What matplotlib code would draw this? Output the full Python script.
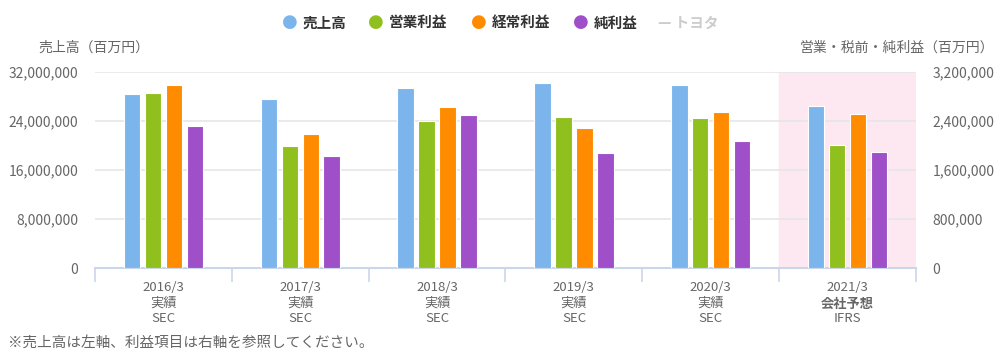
import numpy as np
import matplotlib
matplotlib.use("Agg")
import matplotlib.pyplot as plt
from matplotlib.transforms import blended_transform_factory

plt.rcParams['font.family'] = ['Noto Sans CJK JP', 'DejaVu Sans']

# data (百万円)
years = ["2016/3", "2017/3", "2018/3", "2019/3", "2020/3", "2021/3"]
kinds = ["実績", "実績", "実績", "実績", "実績", "会社予想"]
standards = ["SEC", "SEC", "SEC", "SEC", "SEC", "IFRS"]
sales = [28403118, 27597193, 29379510, 30225681, 29929992, 26500000]
op_income = [2853971, 1994372, 2399862, 2467545, 2442869, 2000000]
pretax = [2983381, 2193825, 2620429, 2285465, 2554607, 2520000]
net_income = [2312694, 1831109, 2493983, 1882873, 2076183, 1900000]

c_sales = "#7cb5ec"
c_op = "#90c01e"
c_pre = "#ff8c00"
c_net = "#9f50c8"
grid_c = "#e6e6e6"
axis_c = "#ccd6eb"
txt_c = "#666666"

fig = plt.figure(figsize=(10, 3.55), dpi=100)
ax = fig.add_axes([0.095, (355 - 268) / 355, 0.821, 196 / 355])
ax2 = ax.twinx()

x = np.arange(len(years))
w = 0.12
step = 0.153

# forecast band
ax.axvspan(4.5, 5.5, color="#fde8f1", zorder=0)

ax.bar(x - 1.5 * step, sales, w, color=c_sales, edgecolor="white", linewidth=0.8, zorder=3)
ax2.bar(x - 0.5 * step, op_income, w, color=c_op, edgecolor="white", linewidth=0.8, zorder=3)
ax2.bar(x + 0.5 * step, pretax, w, color=c_pre, edgecolor="white", linewidth=0.8, zorder=3)
ax2.bar(x + 1.5 * step, net_income, w, color=c_net, edgecolor="white", linewidth=0.8, zorder=3)

ax.set_xlim(-0.5, 5.5)
ax.set_ylim(0, 32000000)
ax2.set_ylim(0, 3200000)
left_ticks = list(range(0, 32000001, 8000000))
right_ticks = list(range(0, 3200001, 800000))
ax.set_yticks(left_ticks)
ax2.set_yticks(right_ticks)
ax.set_yticklabels([f"{v:,}" for v in left_ticks])
ax2.set_yticklabels([f"{v:,}" for v in right_ticks])
ax.yaxis.grid(True, color=grid_c, linewidth=1.2, zorder=1)
ax.set_axisbelow(True)

for a in (ax, ax2):
    for s in a.spines.values():
        s.set_visible(False)
    a.tick_params(axis="y", length=0, labelsize=10, labelcolor=txt_c, pad=12)
ax.spines["bottom"].set_visible(True)
ax.spines["bottom"].set_color(axis_c)
ax.spines["bottom"].set_linewidth(1.5)

ax.set_xticks(x)
ax.set_xticklabels([])
ax.tick_params(axis="x", which="major", length=0)
ax.set_xticks(np.arange(-0.5, 6, 1), minor=True)
ax.tick_params(axis="x", which="minor", length=10, color=axis_c, width=1.2)

trans = blended_transform_factory(ax.transData, ax.transAxes)
for i in range(len(years)):
    ax.text(x[i], -0.065, years[i], transform=trans, ha="center", va="top",
            fontsize=9.5, color=txt_c)
    ax.text(x[i], -0.145, kinds[i], transform=trans, ha="center", va="top",
            fontsize=9.5, color=txt_c, fontweight="bold" if i == 5 else "normal")
    ax.text(x[i], -0.225, standards[i], transform=trans, ha="center", va="top",
            fontsize=9.5, color=txt_c)

# axis titles
fig.text(0.038, 0.865, "売上高（百万円）", fontsize=10, color=txt_c, va="center")
fig.text(0.994, 0.865, "営業・税前・純利益（百万円）", fontsize=10, color=txt_c,
         va="center", ha="right")

# legend
leg_items = [("売上高", c_sales, 0.282), ("営業利益", c_op, 0.368),
             ("経常利益", c_pre, 0.471), ("純利益", c_net, 0.573)]
for label, col, lx in leg_items:
    fig.text(lx, 0.937, "●", fontsize=13, color=col, va="center", ha="left",
             family=["DejaVu Sans"])
    fig.text(lx + 0.021, 0.937, label, fontsize=10.5, color="#333333",
             va="center", ha="left", fontweight="bold")
fig.text(0.658, 0.937, "— トヨタ", fontsize=10.5, color="#cccccc", va="center",
         ha="left", fontweight="bold")

fig.text(0.008, 0.035, "※売上高は左軸、利益項目は右軸を参照してください。",
         fontsize=10.5, color=txt_c, va="center", ha="left")

fig.savefig("out.png", dpi=100)
